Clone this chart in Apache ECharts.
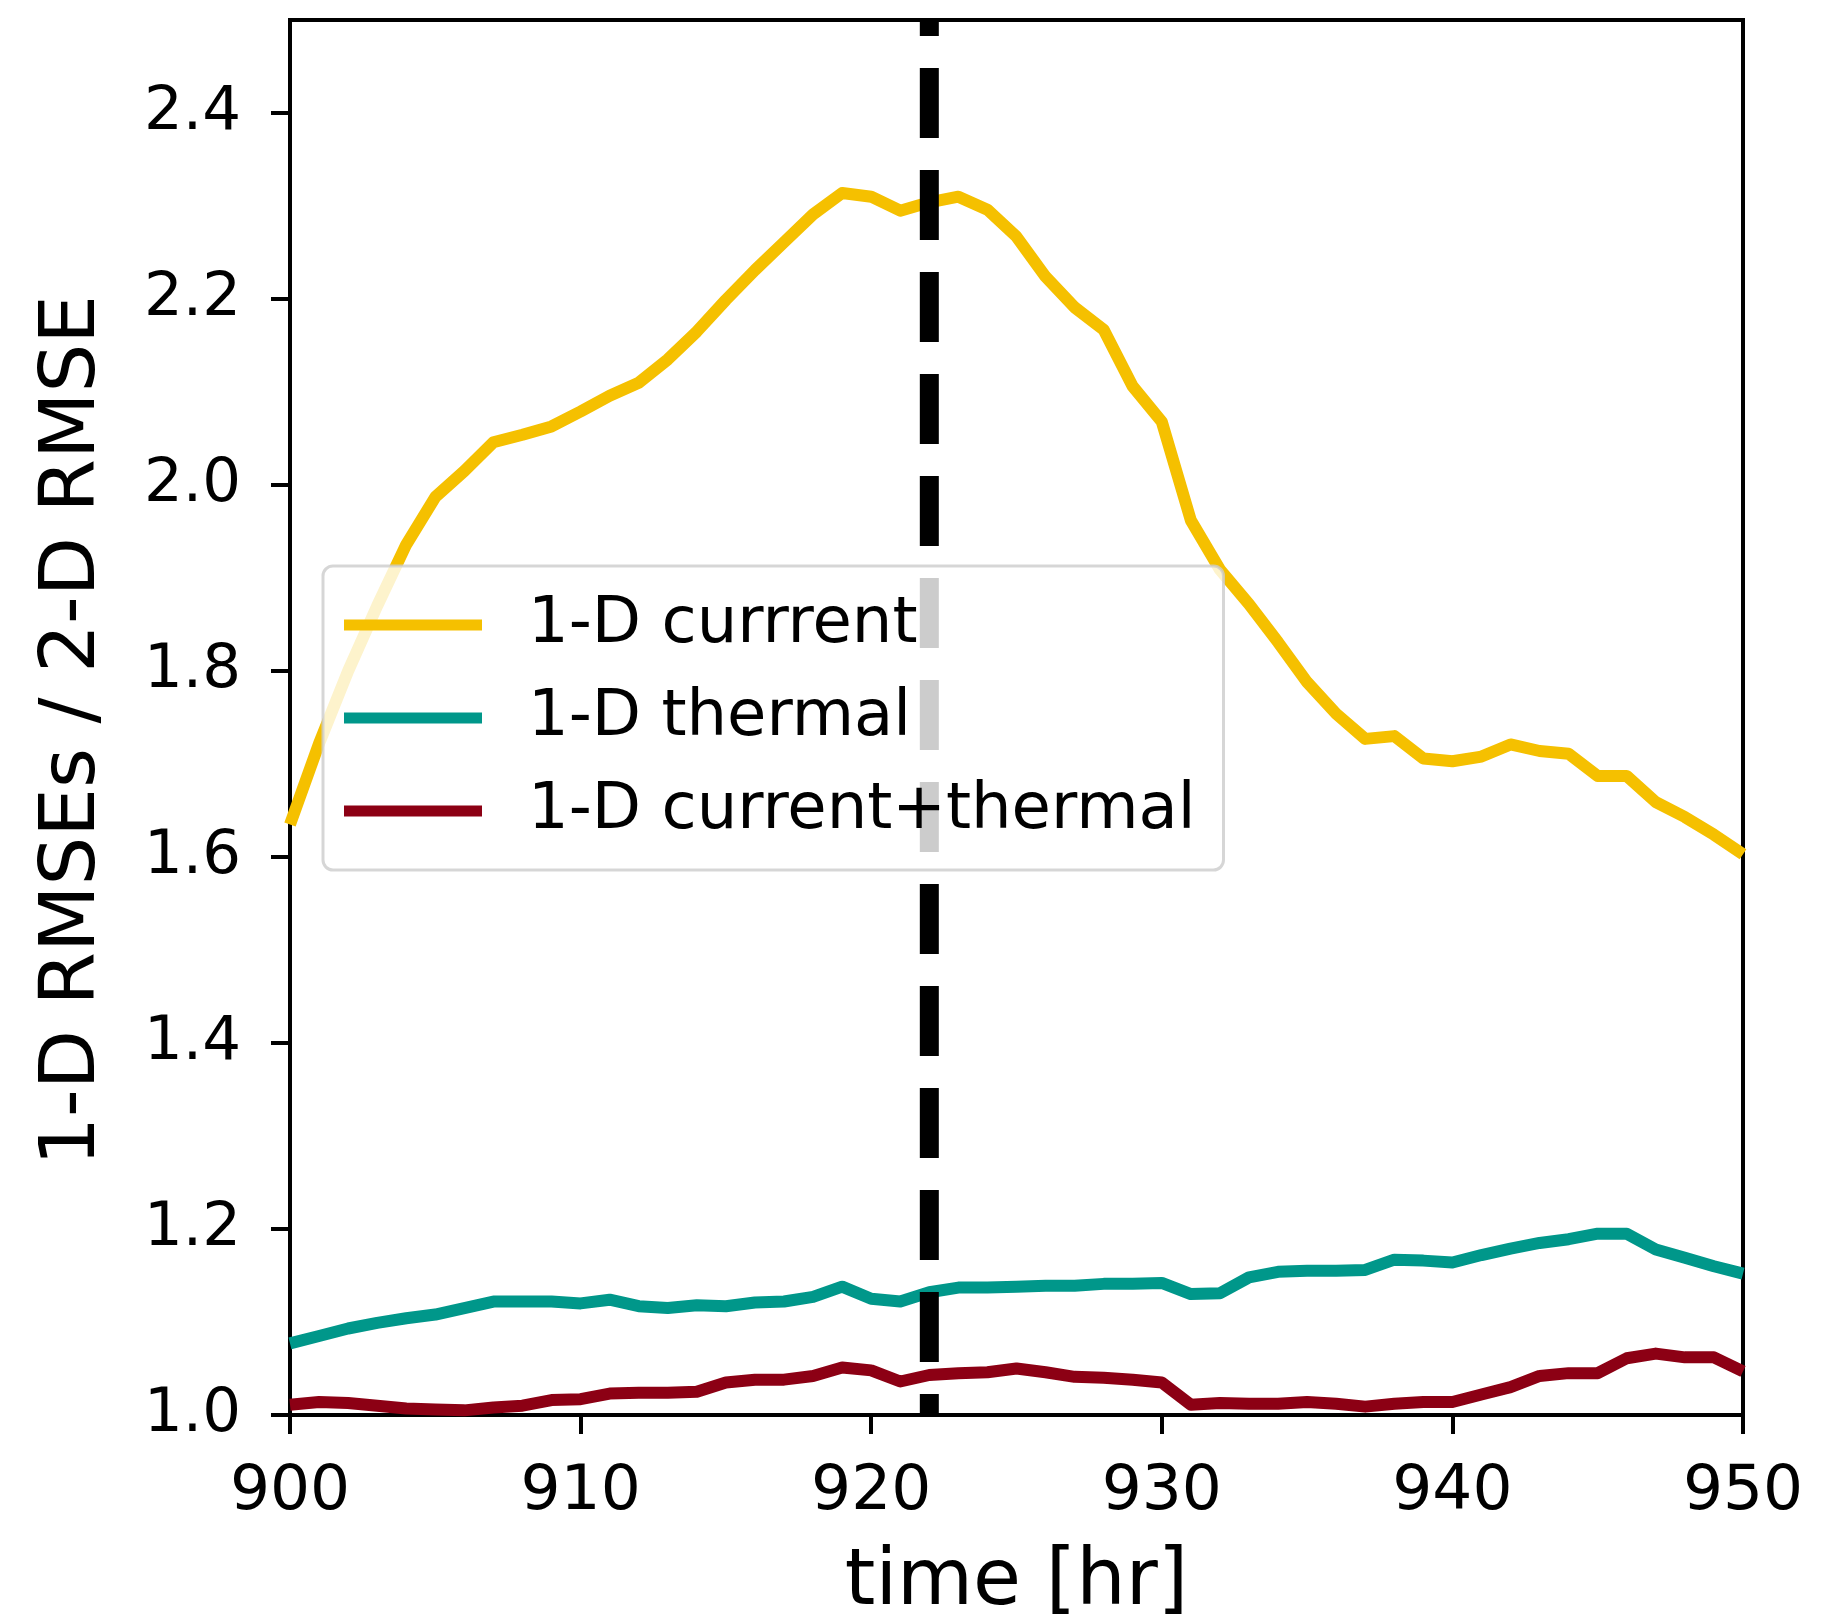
<!DOCTYPE html>
<html>
<head>
<meta charset="utf-8">
<title>1-D / 2-D RMSE ratio</title>
<script src="https://cdn.jsdelivr.net/npm/echarts@6/dist/echarts.min.js"></script>
<style>
  html, body { margin: 0; padding: 0; background: #ffffff; }
  #chart { width: 1840px; height: 1619px; }
</style>
</head>
<body>
<div id="chart"></div>
<script>
// time axis (hours)
const hours = [900, 901, 902, 903, 904, 905, 906, 907, 908, 909,
               910, 911, 912, 913, 914, 915, 916, 917, 918, 919,
               920, 921, 922, 923, 924, 925, 926, 927, 928, 929,
               930, 931, 932, 933, 934, 935, 936, 937, 938, 939,
               940, 941, 942, 943, 944, 945, 946, 947, 948, 949, 950];

// ratio of 1-D RMSE to 2-D RMSE for each 1-D configuration
const currentRatio = [1.635, 1.722, 1.800, 1.870, 1.936, 1.987, 2.015, 2.046, 2.054, 2.063,
                      2.079, 2.096, 2.110, 2.135, 2.165, 2.199, 2.231, 2.261, 2.291, 2.314,
                      2.310, 2.295, 2.304, 2.310, 2.296, 2.267, 2.224, 2.191, 2.167, 2.106,
                      2.068, 1.962, 1.909, 1.872, 1.831, 1.788, 1.754, 1.727, 1.730, 1.706,
                      1.703, 1.708, 1.721, 1.714, 1.711, 1.687, 1.687, 1.659, 1.643, 1.624, 1.603];

const thermalRatio = [1.077, 1.085, 1.093, 1.099, 1.104, 1.108, 1.115, 1.122, 1.122, 1.122,
                      1.120, 1.124, 1.117, 1.115, 1.118, 1.117, 1.121, 1.122, 1.127, 1.138,
                      1.125, 1.122, 1.132, 1.137, 1.137, 1.138, 1.139, 1.139, 1.141, 1.141,
                      1.142, 1.130, 1.131, 1.148, 1.154, 1.155, 1.155, 1.156, 1.167, 1.166,
                      1.164, 1.172, 1.179, 1.185, 1.189, 1.195, 1.195, 1.178, 1.169, 1.160, 1.152];

const combinedRatio = [1.011, 1.014, 1.013, 1.010, 1.007, 1.006, 1.005, 1.008, 1.010, 1.016,
                       1.017, 1.023, 1.024, 1.024, 1.025, 1.035, 1.038, 1.038, 1.042, 1.051,
                       1.048, 1.036, 1.043, 1.045, 1.046, 1.050, 1.046, 1.041, 1.040, 1.038,
                       1.035, 1.011, 1.013, 1.012, 1.012, 1.014, 1.012, 1.009, 1.012, 1.014,
                       1.014, 1.022, 1.030, 1.042, 1.045, 1.045, 1.061, 1.066, 1.062, 1.062, 1.047];

// vertical marker time
const markerHour = 922;

// tick values
const xTicks = [900, 910, 920, 930, 940, 950];
const yTicks = [1.0, 1.2, 1.4, 1.6, 1.8, 2.0, 2.2, 2.4];

const seriesNames = ['1-D currrent', '1-D thermal', '1-D current+thermal'];
const seriesColors = ['#f5c000', '#00978a', '#8c0014'];
const seriesValues = [currentRatio, thermalRatio, combinedRatio];

const FONT = 'DejaVu Sans';
const Y_MIN = 1.0, Y_MAX = 2.5;

const chart = echarts.init(document.getElementById('chart'), null, { renderer: 'canvas' });

const lineSeries = seriesNames.map((name, i) => ({
  name: name,
  type: 'line',
  data: hours.map((h, k) => [h, seriesValues[i][k]]),
  showSymbol: false,
  symbol: 'none',
  lineStyle: { color: seriesColors[i], width: 12, cap: 'butt', join: 'round' },
  itemStyle: { color: seriesColors[i] },
  z: 2,
  silent: true
}));

// dashed vertical marker, drawn above the data lines
lineSeries.push({
  name: 'marker',
  type: 'line',
  data: [[markerHour, Y_MIN], [markerHour, Y_MAX]],
  showSymbol: false,
  symbol: 'none',
  lineStyle: { color: '#000000', width: 19, type: [70, 32], dashOffset: 49, cap: 'butt' },
  z: 3,
  silent: true
});

const option = {
  animation: false,
  backgroundColor: '#ffffff',
  grid: {
    left: 290, top: 20, width: 1453, height: 1395,
    outerBoundsMode: 'none',
    containLabel: false,
    show: true, borderColor: '#000000', borderWidth: 4, backgroundColor: 'transparent'
  },
  xAxis: {
    type: 'value',
    min: 900, max: 950, interval: 10,
    name: 'time [hr]',
    nameLocation: 'middle',
    nameGap: 130,
    nameTextStyle: { fontFamily: FONT, fontSize: 78, color: '#000000' },
    axisLine: { show: true, lineStyle: { color: '#000000', width: 4 } },
    axisTick: { show: true, inside: false, length: 19, lineStyle: { color: '#000000', width: 4 }, customValues: xTicks },
    axisLabel: { show: true, margin: 46, fontFamily: FONT, fontSize: 63, color: '#000000', customValues: xTicks,
                 formatter: v => String(Math.round(v)) },
    splitLine: { show: false }
  },
  yAxis: {
    type: 'value',
    min: Y_MIN, max: Y_MAX,
    name: '1-D RMSEs / 2-D RMSE',
    nameLocation: 'middle',
    nameGap: 178,
    nameRotate: 90,
    nameTextStyle: { fontFamily: FONT, fontSize: 77, color: '#000000', padding: [0, 26, 0, 0] },
    axisLine: { show: true, lineStyle: { color: '#000000', width: 4 } },
    axisTick: { show: true, inside: false, length: 19, lineStyle: { color: '#000000', width: 4 }, customValues: yTicks },
    axisLabel: { show: true, margin: 49, fontFamily: FONT, fontSize: 61, color: '#000000', customValues: yTicks,
                 formatter: v => v.toFixed(1) },
    splitLine: { show: false }
  },
  legend: {
    data: seriesNames,
    orient: 'vertical',
    left: 323,
    top: 566,
    icon: 'rect',
    itemWidth: 138,
    itemHeight: 11,
    itemGap: 29,
    padding: [27, 28, 27, 21],
    backgroundColor: 'rgba(255,255,255,0.8)',
    borderColor: 'rgba(204,204,204,0.8)',
    borderWidth: 3,
    borderRadius: 10,
    selectedMode: false,
    textStyle: { fontFamily: FONT, fontSize: 64, color: '#000000', padding: [0, 0, 0, 41] }
  },
  series: lineSeries
};

chart.setOption(option);
</script>
</body>
</html>
